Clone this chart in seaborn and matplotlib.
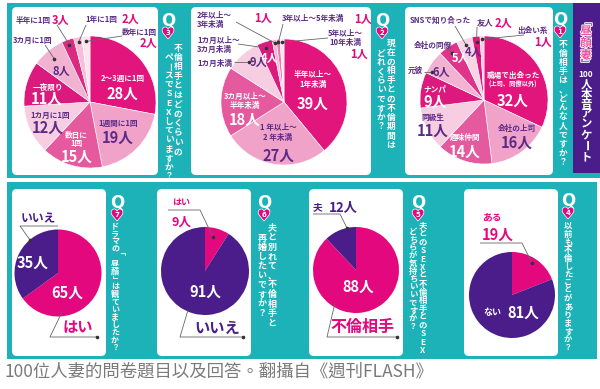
import numpy as np
import matplotlib.pyplot as plt
import matplotlib.patheffects as pe
from matplotlib.patches import FancyBboxPatch, Rectangle
import seaborn as sns

sns.set_theme(style="white")
plt.rcParams['font.family'] = ['Noto Sans CJK JP', 'DejaVu Sans']

# ---- data ----
# Q1: who is the partner
q1_labels = ["職場で出会った", "会社の上司", "趣味仲間", "同級生", "ナンパ",
             "元彼", "会社の同僚", "SNSで知り合った", "友人", "出会い系"]
q1_values = [32, 16, 14, 11, 9, 6, 5, 4, 2, 1]
# Q2: how long
q2_labels = ["半年以上～1年未満", "1年以上～2年未満", "3カ月以上～半年未満", "1カ月未満",
             "1カ月以上～3カ月未満", "2年以上～3年未満", "3年以上～5年未満", "5年以上～10年未満"]
q2_values = [39, 27, 18, 9, 4, 1, 1, 1]
# Q3: how often
q3_labels = ["2～3週に1回", "1週間に1回", "数日に1回", "1カ月に1回", "一夜限り",
             "3カ月に1回", "半年に1回", "1年に1回", "数年に1回"]
q3_values = [28, 19, 15, 12, 11, 8, 3, 2, 2]
# Q4..Q7 yes/no style
q4_labels = ["ある", "ない"]
q4_values = [19, 81]
q5_labels = ["不倫相手", "夫"]
q5_values = [88, 12]
q6_labels = ["はい", "いいえ"]
q6_values = [9, 91]
q7_labels = ["はい", "いいえ"]
q7_values = [65, 35]

q_titles = {
    1: ["不倫相手は、どんな人ですか？"],
    2: ["現在の相手との不倫期間は", "どれくらいですか？"],
    3: ["不倫相手とはどのくらいの", "ペースでSEXしていますか？"],
    4: ["以前も不倫したことがありますか？"],
    5: ["夫とのSEXと不倫相手とのSEX、", "どちらが気持ちいいですか？"],
    6: ["夫と別れて、不倫相手と", "再婚したいですか？"],
    7: ["ドラマの「昼顔」は観ていましたか？"],
}
caption = "100位人妻的問卷題目以及回答。翻攝自《週刊FLASH》"

# ---- colours ----
TEAL = "#1db2b8"
MAG = "#e4087e"
PUR = "#4a1d8a"
PTXT = "#5b2b86"
deep, light, mid, pale, mag2 = "#e2157d", "#f0a2c8", "#e55a9f", "#f7cde1", "#dc1a7e"
q3_colors = sns.color_palette([deep, light, mid, pale, mag2, "#f2b3d2", "#d92b82", "#f5bfd9", "#fbe6f0"])
q2_colors = sns.color_palette([deep, light, mid, pale, mag2, "#f3b6d4", "#e77bb2", "#fbe6f0"])
q1_colors = sns.color_palette([deep, light, mid, pale, mag2, "#f2b3d2", "#e0348c", "#f8d4e5", deep, "#f7cde1"])

fig = plt.figure(figsize=(6, 3.89), dpi=100)
ax = fig.add_axes([0, 0, 1, 1])


def box(x0, y0, x1, y1, color="white", rs=5):
    ax.add_patch(FancyBboxPatch((x0, y0), x1 - x0, y1 - y0,
                                boxstyle=f"round,pad=0,rounding_size={rs}",
                                fc=color, ec="none", zorder=1))


def pie(values, colors, cx, cy, r, lw=0.0):
    ax.pie(values, colors=colors, center=(cx, cy), radius=r, startangle=270,
           counterclock=True, frame=True,
           wedgeprops=dict(linewidth=lw, edgecolor="white", zorder=2))


def wedge_pt(values, idx, cx, cy, r, frac=0.92):
    cum = np.cumsum(values)
    a = np.deg2rad(360.0 * (cum[idx] - values[idx] / 2) / sum(values))
    return cx + frac * r * np.sin(a), cy - frac * r * np.cos(a)


def lead(pts, dot=True):
    xs, ys = zip(*pts)
    ax.plot(xs, ys, color="#666666", lw=0.6, zorder=4, solid_capstyle="butt")
    if dot:
        ax.plot(xs[-1], ys[-1], "o", color="#333333", ms=1.6, zorder=4)


def t(s, x, y, size, color, weight="bold", ha="center", **kw):
    ax.text(x, y, s, fontsize=size, color=color, weight=weight, ha=ha, va="center", zorder=5, **kw)


ROT = "ー～「」"


def vtext(x, y0, tokens, step, size, color="white", **kw):
    y = y0
    for ch in tokens:
        rot = -90 if ch in ROT else 0
        fs = size * 0.8 if ch.isdigit() else size
        ax.text(x, y, ch, fontsize=fs, color=color, weight="bold", ha="center",
                va="center", rotation=rot, zorder=5, **kw)
        y += step


def qhead(x, y, n):
    ax.text(x, y, "Q", fontsize=12, color="white", weight="bold", ha="center", va="center",
            family="DejaVu Sans", zorder=5)
    ax.text(x, y + 14, "♥", fontsize=11, color=MAG, ha="center", va="center", family="DejaVu Sans",
            zorder=5, path_effects=[pe.withStroke(linewidth=1.0, foreground="white")])
    ax.text(x, y + 13, str(n), fontsize=5, color="white", weight="bold", ha="center", va="center",
            family="DejaVu Sans", zorder=6)


# ---- backgrounds ----
ax.add_patch(Rectangle((7, 3), 593, 175, fc=TEAL, ec="none", zorder=0))
ax.add_patch(Rectangle((7, 182), 590, 177, fc=TEAL, ec="none", zorder=0))
ax.add_patch(Rectangle((573, 3), 27, 170, fc=PUR, ec="none", zorder=0.5))
for x0, x1 in [(12, 158), (191, 371), (405, 553)]:
    box(x0, 7, x1, 175)
for x0, x1 in [(12, 106), (157, 251), (309, 403), (464, 558)]:
    box(x0, 189, x1, 356)

# ---- Q3 ----
c3 = (90, 102, 66)
pie(q3_values, q3_colors, *c3, lw=0.4)
for s, x, y, fs, col in [
    ("2～3週に1回", 123, 78, 5.5, "white"), ("28人", 122, 94, 10.5, "white"),
    ("1週間に1回", 118, 123, 5.5, PTXT), ("19人", 118, 138, 10.5, PTXT),
    ("数日に", 76, 135, 5.5, "white"), ("1回", 76, 143, 5.5, "white"), ("15人", 77, 157, 10.5, "white"),
    ("1カ月に1回", 50, 115, 5.5, PTXT), ("12人", 48, 128, 10.5, PTXT),
    ("一夜限り", 48, 87, 5.5, "white"), ("11人", 47, 99, 10.5, "white"),
    ("8人", 61, 71, 8, PTXT), ("3カ月に1回", 33, 40, 5.5, PTXT),
    ("半年に1回", 33, 20, 5.5, PTXT), ("3人", 61, 20, 8, MAG),
    ("1年に1回", 101, 19, 5.5, PTXT), ("2人", 130, 19, 8, MAG),
    ("数年に1回", 139, 32, 5.5, PTXT), ("2人", 148, 43, 8, MAG)]:
    t(s, x, y, fs, col)
lead([(45, 45), wedge_pt(q3_values, 5, *c3, 0.85)])
lead([(57, 25), wedge_pt(q3_values, 6, *c3)])
lead([(86, 25), wedge_pt(q3_values, 7, *c3)])
lead([(122, 36), wedge_pt(q3_values, 8, *c3)])

# ---- Q2 ----
c2 = (284, 102, 63)
pie(q2_values, q2_colors, *c2, lw=0.4)
for s, x, y, fs, col in [
    ("1人", 263, 18, 8, MAG), ("3年以上～5年未満", 313, 18, 5.5, PTXT), ("1人", 363, 19, 8, MAG),
    ("5年以上～", 345, 33, 5.5, PTXT), ("10年未満", 345, 42, 5.5, PTXT), ("1人", 359, 54, 8, MAG),
    ("4人", 270, 58, 8, "white"), ("9人", 258, 62, 8, PTXT),
    ("3カ月以上～", 245, 96, 5.5, "white"), ("半年未満", 245, 105, 5.5, "white"), ("18人", 245, 120, 10.5, "white"),
    ("半年以上～", 313, 74, 5.5, "white"), ("1年未満", 313, 84, 5.5, "white"), ("39人", 313, 104, 10.5, "white"),
    ("1 年以上～", 278, 127, 5.5, PTXT), ("2 年未満", 278, 137, 5.5, PTXT), ("27人", 278, 156, 10.5, PTXT)]:
    t(s, x, y, fs, col)
for s, y in [("2年以上～", 15), ("3年未満", 24), ("1カ月以上～", 40), ("3カ月未満", 49), ("1カ月未満", 63)]:
    t(s, 197, y, 5.5, PTXT, ha="left")
lead([(236, 22), wedge_pt(q2_values, 5, *c2, 0.95)])
lead([(283, 24), wedge_pt(q2_values, 6, *c2, 0.95)])
lead([(328, 38), wedge_pt(q2_values, 7, *c2, 0.95)])
lead([(238, 44), wedge_pt(q2_values, 4, *c2, 0.9)])
lead([(234, 62), (249, 62)])

# ---- Q1 ----
c1 = (484, 100, 64)
pie(q1_values, q1_colors, *c1, lw=0.4)
for s, x, y, fs, col in [
    ("SNSで知り合った", 440, 20, 5.5, PTXT), ("友人", 485, 23, 6, PTXT), ("2人", 503, 23, 8, MAG),
    ("出会い系", 533, 30, 5.5, PTXT), ("1人", 543, 42, 8, MAG), ("会社の同僚", 433, 45, 5.5, PTXT),
    ("5人", 461, 58, 8, "white"), ("4人", 474, 52, 8, PTXT),
    ("元彼", 415, 70, 5.5, PTXT), ("6人", 441, 72, 8, PTXT),
    ("ナンパ", 435, 89, 5.5, "white"), ("9人", 435, 102, 10.5, "white"),
    ("同級生", 433, 117, 5.5, PTXT), ("11人", 433, 131, 10.5, PTXT),
    ("趣味仲間", 465, 137, 5.5, "white"), ("14人", 465, 152, 10.5, "white"),
    ("職場で出会った", 513, 75, 5.5, "white"), ("(上司、同僚以外)", 513, 84, 4.5, "white"),
    ("32人", 513, 101, 10.5, "white"),
    ("会社の上司", 517, 128, 5.5, PTXT), ("16人", 517, 143, 10.5, PTXT)]:
    t(s, x, y, fs, col)
lead([(455, 26), wedge_pt(q1_values, 7, *c1, 0.9)])
lead([(477, 27), wedge_pt(q1_values, 8, *c1, 0.92)])
lead([(524, 35), wedge_pt(q1_values, 9, *c1, 0.95)])
lead([(447, 48), wedge_pt(q1_values, 6, *c1, 0.88)])
lead([(424, 72), (432, 72)])

# ---- bottom row ----
pie(q7_values, [MAG, PUR], 58, 273, 43.5)
pie(q6_values, [MAG, PUR], 205, 271, 44)
pie(q5_values, [MAG, PUR], 356, 270, 43)
pie(q4_values, [MAG, PUR], 512, 295, 43)

t(q7_labels[1], 38, 219, 8.5, PUR)
t(f"{q7_values[1]}人", 33, 263, 10.5, "white")
t(f"{q7_values[0]}人", 67, 293, 10.5, "white")
t(q7_labels[0], 78, 327, 11, MAG)
lead([(58, 226), (20, 226), (30, 240)])
lead([(62, 312), (50, 337), (97, 337)])

t(q6_labels[0], 181, 202, 6.5, MAG)
t(f"{q6_values[0]}人", 181, 222, 9, MAG)
t(f"{q6_values[1]}人", 205, 292, 10.5, "white")
t(q6_labels[1], 217, 328, 11, PUR)
lead([(168, 210), (200, 210), (213, 237)])
lead([(188, 310), (180, 337), (243, 337)])

t(q5_labels[1], 318, 207, 7, PUR)
t(f"{q5_values[1]}人", 343, 207, 9.5, PUR)
t(f"{q5_values[0]}人", 358, 287, 10.5, "white")
t(q5_labels[0], 362, 327, 11.5, MAG)
lead([(313, 214), (340, 214), (347, 228)])
lead([(335, 303), (327, 337), (397, 337)])

t(q4_labels[0], 492, 217, 7, MAG)
t(f"{q4_values[0]}人", 498, 235, 10.5, MAG)
t(q4_labels[1], 492, 313, 6.5, "white")
t(f"{q4_values[1]}人", 523, 313, 10.5, "white")
lead([(480, 243), (522, 243), (532, 263)])

# ---- question headers and vertical titles ----
qhead(168, 20, 3)
vtext(178, 48, q_titles[3][0], 9.4, 6.3)
vtext(169, 57, q_titles[3][1], 9.2, 6.3)
qhead(382, 20, 2)
vtext(391, 43, q_titles[2][0], 9.3, 6.3)
vtext(381, 53, q_titles[2][1], 9.2, 6.3)
qhead(560, 19, 1)
vtext(563, 44, q_titles[1][0], 9.1, 6.3)

title_tokens = ["「", "昼", "顔", "妻", "」", "100", "人", "本", "音", "ア", "ン", "ケ", "ー", "ト"]
title_y = [21, 31, 43, 55, 64, 74, 84, 94, 104, 114, 124, 135, 146, 157]
for i, (tok, y) in enumerate(zip(title_tokens, title_y)):
    pink = i < 5
    ax.text(586, y, tok, fontsize=6 if tok == "100" else 8.2, weight="bold",
            color="#ef4f9c" if pink else "white", ha="center", va="center",
            rotation=-90 if tok in ROT else 0, zorder=5,
            path_effects=[pe.withStroke(linewidth=1.2, foreground="white")] if pink else None)

qhead(117, 202, 7)
vtext(115, 226, q_titles[7][0], 7.6, 5.8)
qhead(264, 202, 6)
vtext(272, 228, q_titles[6][0], 9.5, 6.5)
vtext(262, 238, q_titles[6][1], 9.4, 6.5)
qhead(418, 202, 5)
vtext(423, 226, q_titles[5][0], 8.3, 6.0)
vtext(413, 232, q_titles[5][1], 7.9, 6.0)
qhead(568, 200, 4)
vtext(568, 226, q_titles[4][0], 8.1, 6.0)

ax.text(5, 372, caption, fontsize=12.5, color="#7a7a7a", ha="left", va="center",
        family=["Noto Sans CJK TC", "DejaVu Sans"], weight="light")

ax.set_xlim(0, 600)
ax.set_ylim(389, 0)
ax.set_aspect("auto")
ax.set_axis_off()
fig.savefig("out.png", dpi=100)
